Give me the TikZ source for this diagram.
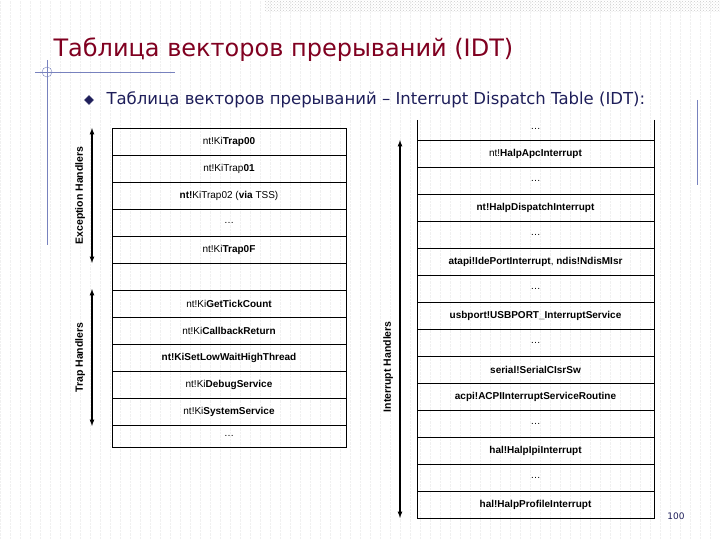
\documentclass[tikz,border=0pt]{standalone}
\usepackage{fontspec}
\setmainfont{Liberation Sans}
\newfontfamily\titlefont{DejaVu Sans}
\usetikzlibrary{patterns,shapes.geometric}
\definecolor{titlered}{RGB}{128,0,32}
\definecolor{subblue}{RGB}{30,30,90}
\definecolor{deco}{RGB}{120,130,190}
\tikzset{
 cell/.style={draw,line width=0.9pt,minimum width=234pt,minimum height=27pt,inner sep=0pt,font=\fontsize{10}{11}\selectfont},
 rcell/.style={cell,minimum width=237pt},
 harrow/.style={<->,>=latex,line width=1.2pt},
 hlabel/.style={rotate=90,font=\bfseries\fontsize{10.5}{11}\selectfont}
}
\begin{document}
\begin{tikzpicture}[x=1pt,y=-1pt]
\useasboundingbox (0,0) rectangle (720,540);
\draw[gray!12,densely dotted] (0,0) grid[step=10] (720,540);
\fill[pattern=crosshatch dots,pattern color=gray!40] (265,0) rectangle (720,12);
\draw[deco,line width=0.8pt] (35,72) -- (175,72);
\draw[deco,line width=0.8pt] (47,60) -- (47,245);
\draw[deco] (47,72) circle (5);
\draw[deco,line width=0.8pt] (697,100) -- (697,185);
\node[anchor=west,text=titlered,font=\titlefont\fontsize{24}{26}\selectfont] (title) at (50,50) {Таблица векторов прерываний (IDT)};
\node[diamond,fill=subblue,draw=subblue!40,inner sep=2.5pt] (bul) at (89,100) {};
\node[anchor=west,text=subblue,font=\titlefont\fontsize{16.5}{18}\selectfont] (sub) at (103,100) {Таблица векторов прерываний – Interrupt Dispatch Table (IDT):};
% left table
\foreach \t [count=\i from 0] in {nt!Ki\textbf{Trap00},nt!KiTrap\textbf{01},\textbf{nt!}KiTrap02 (\textbf{via} TSS),\dots,nt!Ki\textbf{Trap0F},{},nt!Ki\textbf{GetTickCount},nt!Ki\textbf{CallbackReturn},\textbf{nt!KiSetLowWaitHighThread},nt!Ki\textbf{DebugService},nt!Ki\textbf{SystemService}}
  \node[cell] (L\i) at (229,{141.5+27*\i}) {\t};
\node[cell,minimum height=22pt] (L11) at (229,436) {\dots};
% right table
\draw[line width=0.9pt] (417,120) -- (417,140) (654,120) -- (654,140);
\node[font=\fontsize{10}{11}\selectfont] (R0) at (535.5,129) {\dots};
\foreach \t [count=\i from 1] in {nt!\textbf{HalpApcInterrupt},\dots,\textbf{nt!HalpDispatchInterrupt},\dots,{\textbf{atapi!IdePortInterrupt}, \textbf{ndis!NdisMIsr}},\dots,\textbf{usbport!USBPORT\_InterruptService},\dots,\textbf{serial!SerialCIsrSw},\textbf{acpi!ACPIInterruptServiceRoutine},\dots,\textbf{hal!HalpIpiInterrupt},\dots,\textbf{hal!HalpProfileInterrupt}}
  \node[rcell] (R\i) at (535.5,{126.5+27*\i}) {\t};
% arrows
\coordinate (e1) at (92,128); \coordinate (e2) at (92,263);
\coordinate (t1) at (92,289); \coordinate (t2) at (92,426);
\coordinate (i1) at (400,140); \coordinate (i2) at (400,518);
\draw[harrow] (e1) -- node[hlabel,above=3pt] {Exception Handlers} (e2);
\draw[harrow] (t1) -- node[hlabel,above=3pt] {Trap Handlers} (t2);
\draw[harrow] (i1) -- node[hlabel,above=3pt,pos=0.6] {Interrupt Handlers} (i2);
\node[font=\titlefont\fontsize{9}{10}\selectfont,text=subblue] (pg) at (676,516) {100};
\end{tikzpicture}
\end{document}
